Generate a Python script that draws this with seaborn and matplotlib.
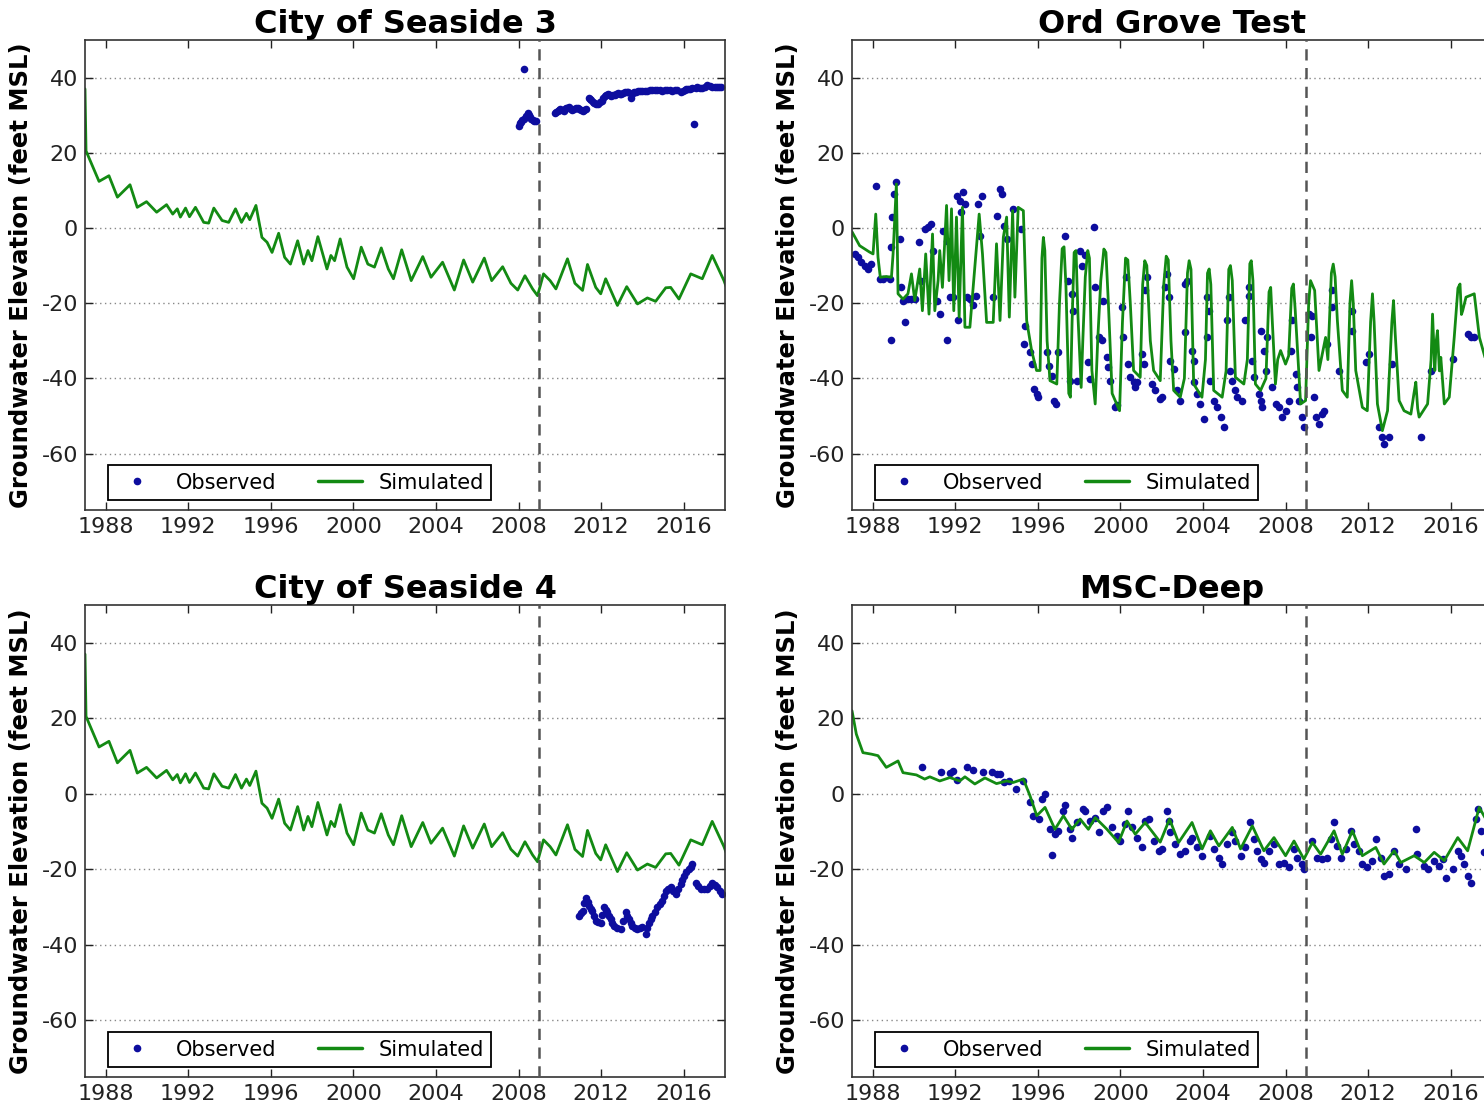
import matplotlib
matplotlib.use("Agg")
import matplotlib.pyplot as plt
import seaborn as sns
import pandas as pd
from matplotlib.lines import Line2D

# ---------------- data (decimal year, feet MSL) ----------------
seaside_sim = [
    (1987.0, 37.0), (1987.05, 20.5), (1987.68, 12.4), (1988.16, 13.9), (1988.57, 8.2),
    (1989.18, 11.5), (1989.53, 5.5), (1989.98, 7.0), (1990.47, 4.2), (1990.95, 6.2),
    (1991.25, 3.7), (1991.47, 5.1), (1991.62, 2.9), (1991.87, 5.3), (1992.06, 3.0),
    (1992.35, 5.5), (1992.75, 1.5), (1992.99, 1.3), (1993.24, 5.3), (1993.64, 2.0),
    (1993.96, 1.5), (1994.29, 5.1), (1994.58, 1.5), (1994.82, 3.9), (1994.98, 2.2),
    (1995.28, 6.0), (1995.57, -2.5), (1995.82, -3.8), (1996.06, -6.5), (1996.38, -1.4),
    (1996.67, -7.8), (1996.95, -9.6), (1997.30, -3.4), (1997.59, -9.6), (1997.80, -6.0),
    (1997.99, -8.7), (1998.28, -2.3), (1998.72, -10.9), (1998.91, -7.3), (1999.09, -8.7),
    (1999.36, -2.9), (1999.69, -10.4), (2000.01, -13.5), (2000.38, -5.1), (2000.70, -9.6),
    (2001.02, -10.4), (2001.35, -5.3), (2001.69, -10.9), (2001.94, -13.5), (2002.34, -5.8),
    (2002.80, -14.0), (2003.36, -7.6), (2003.76, -13.1), (2004.32, -9.1), (2004.89, -16.5),
    (2005.34, -8.5), (2005.78, -14.4), (2006.34, -8.0), (2006.70, -14.0), (2007.23, -10.3),
    (2007.63, -14.7), (2007.96, -16.5), (2008.31, -12.7), (2008.68, -16.2), (2008.92, -18.0),
    (2009.21, -12.2), (2009.53, -14.0), (2009.81, -16.2), (2010.37, -8.2), (2010.73, -14.7),
    (2011.10, -16.6), (2011.34, -9.7), (2011.74, -15.8), (2011.98, -17.5), (2012.22, -13.5),
    (2012.79, -20.6), (2013.24, -15.6), (2013.76, -20.2), (2014.24, -18.6), (2014.64, -19.5),
    (2015.13, -15.9), (2015.37, -15.8), (2015.77, -18.9), (2016.34, -12.2), (2016.90, -13.5),
    (2017.38, -7.3), (2017.95, -14.0), (2018.05, -15.5),
]

seaside3_obs = [
    (2008.04, 27.2), (2008.08, 27.8), (2008.12, 28.1), (2008.18, 28.6), (2008.24, 29.0),
    (2008.28, 42.3), (2008.36, 29.9), (2008.44, 30.5), (2008.50, 30.0), (2008.57, 29.5),
    (2008.62, 28.9), (2008.68, 28.6), (2008.76, 28.5), (2008.84, 28.4), (2009.76, 30.5),
    (2009.82, 30.9), (2009.89, 31.2), (2009.95, 31.5), (2010.02, 31.7), (2010.10, 31.4),
    (2010.18, 31.2), (2010.24, 31.6), (2010.29, 31.9), (2010.37, 32.0), (2010.45, 32.1),
    (2010.53, 31.7), (2010.61, 31.4), (2010.70, 31.6), (2010.78, 31.8), (2010.86, 31.8),
    (2010.94, 31.7), (2011.02, 31.4), (2011.10, 31.2), (2011.18, 31.4), (2011.26, 31.7),
    (2011.42, 34.6), (2011.47, 34.4), (2011.53, 34.1), (2011.60, 33.6), (2011.66, 33.2),
    (2011.76, 33.1), (2011.86, 33.0), (2011.94, 33.4), (2012.02, 33.9), (2012.10, 34.6),
    (2012.18, 35.2), (2012.26, 35.5), (2012.34, 35.7), (2012.42, 35.4), (2012.50, 35.2),
    (2012.58, 35.3), (2012.66, 35.5), (2012.74, 35.6), (2012.82, 35.8), (2012.90, 35.7),
    (2012.98, 35.7), (2013.06, 35.9), (2013.15, 36.1), (2013.23, 36.1), (2013.31, 36.1),
    (2013.44, 34.6), (2013.52, 35.8), (2013.60, 36.1), (2013.70, 36.3), (2013.79, 36.4),
    (2013.90, 36.4), (2014.00, 36.5), (2014.12, 36.5), (2014.24, 36.4), (2014.36, 36.6),
    (2014.48, 36.7), (2014.60, 36.7), (2014.72, 36.7), (2014.85, 36.6), (2014.97, 36.5),
    (2015.09, 36.6), (2015.21, 36.7), (2015.33, 36.6), (2015.45, 36.5), (2015.57, 36.6),
    (2015.69, 36.7), (2015.88, 36.1), (2015.96, 36.4), (2016.05, 36.7), (2016.13, 36.9),
    (2016.21, 37.0), (2016.32, 37.1), (2016.42, 37.2), (2016.50, 27.7), (2016.58, 37.3),
    (2016.66, 37.4), (2016.78, 37.3), (2016.90, 37.2), (2017.02, 37.5), (2017.14, 37.9),
    (2017.26, 37.7), (2017.38, 37.6), (2017.50, 37.6), (2017.63, 37.6), (2017.72, 37.5),
    (2017.82, 37.4),
]

seaside4_obs = [
    (2010.94, -32.3), (2011.02, -31.6), (2011.10, -31.0), (2011.18, -29.0), (2011.26, -27.5),
    (2011.34, -28.6), (2011.42, -29.7), (2011.50, -30.4), (2011.58, -31.0), (2011.66, -32.4),
    (2011.74, -33.6), (2011.86, -33.9), (2011.98, -34.1), (2012.06, -32.0), (2012.14, -30.1),
    (2012.22, -30.8), (2012.30, -31.4), (2012.38, -32.3), (2012.46, -33.2), (2012.54, -34.1),
    (2012.63, -35.0), (2012.79, -35.5), (2012.95, -35.9), (2013.07, -33.6), (2013.19, -31.4),
    (2013.27, -32.3), (2013.35, -33.2), (2013.43, -34.1), (2013.51, -35.0), (2013.63, -35.5),
    (2013.76, -35.9), (2013.88, -35.6), (2014.00, -35.4), (2014.16, -37.0), (2014.24, -35.5),
    (2014.32, -34.1), (2014.40, -33.2), (2014.48, -32.3), (2014.60, -31.2), (2014.72, -30.1),
    (2014.84, -29.2), (2014.96, -28.3), (2015.04, -27.0), (2015.12, -25.7), (2015.25, -25.2),
    (2015.37, -24.8), (2015.49, -25.7), (2015.61, -26.6), (2015.73, -25.2), (2015.85, -23.9),
    (2015.93, -22.8), (2016.01, -21.7), (2016.13, -20.8), (2016.25, -20.0), (2016.33, -19.3),
    (2016.41, -18.6), (2016.58, -23.5), (2016.70, -24.4), (2016.82, -25.2), (2016.98, -25.2),
    (2017.14, -25.2), (2017.26, -24.3), (2017.38, -23.5), (2017.50, -24.1), (2017.62, -24.8),
    (2017.74, -25.7), (2017.87, -26.6),
]

ord_sim = [
    (1987.0, -1.0), (1987.37, -4.7), (1987.85, -6.4), (1988.02, -6.9), (1988.15, 3.7),
    (1988.26, -7.8), (1988.37, -13.1), (1988.66, -12.9), (1988.91, -13.1), (1988.99, -6.9),
    (1989.15, 11.7), (1989.23, -17.5), (1989.47, -18.9), (1989.71, -17.5), (1989.88, -12.2),
    (1990.04, -19.3), (1990.28, -10.9), (1990.41, -22.0), (1990.57, -6.9), (1990.73, -22.9),
    (1990.90, -1.6), (1991.01, -22.0), (1991.17, -14.0), (1991.25, -6.0), (1991.38, -15.8),
    (1991.58, 6.0), (1991.70, -14.0), (1991.82, 5.1), (1991.93, -22.0), (1992.06, 2.9),
    (1992.19, -23.7), (1992.35, 5.5), (1992.47, -26.4), (1992.71, -26.4), (1992.95, -10.4),
    (1993.16, 3.7), (1993.32, -6.9), (1993.52, -25.1), (1993.84, -25.1), (1994.00, -4.2),
    (1994.17, -24.6), (1994.33, -2.5), (1994.49, 2.9), (1994.62, -23.7), (1994.78, 4.6),
    (1994.89, -18.4), (1995.05, 5.5), (1995.30, 4.6), (1995.46, -24.6), (1995.70, -32.6),
    (1995.94, -37.9), (1996.11, -37.9), (1996.20, -8.0), (1996.27, -2.5), (1996.34, -6.0),
    (1996.45, -30.0), (1996.59, -40.6), (1996.92, -41.5), (1997.05, -20.0), (1997.18, -5.5),
    (1997.27, -5.0), (1997.36, -15.0), (1997.50, -44.0), (1997.58, -45.0), (1997.66, -25.0),
    (1997.76, -6.5), (1997.85, -6.0), (1997.95, -24.0), (1998.10, -42.4), (1998.18, -30.0),
    (1998.30, -13.0), (1998.42, -6.0), (1998.50, -8.0), (1998.62, -37.9), (1998.78, -46.8),
    (1998.90, -30.0), (1999.05, -14.0), (1999.20, -5.6), (1999.30, -6.5), (1999.42, -20.2),
    (1999.60, -44.0), (1999.96, -48.6), (2000.10, -25.0), (2000.25, -8.0), (2000.36, -8.5),
    (2000.48, -20.0), (2000.64, -37.9), (2000.96, -39.7), (2001.08, -15.0), (2001.18, -8.7),
    (2001.28, -10.0), (2001.45, -30.0), (2001.61, -37.9), (2001.93, -40.6), (2002.10, -15.0),
    (2002.22, -7.5), (2002.32, -8.5), (2002.45, -30.0), (2002.58, -43.2), (2002.90, -45.0),
    (2003.10, -40.0), (2003.25, -12.0), (2003.33, -8.7), (2003.42, -11.0), (2003.55, -41.5),
    (2003.95, -45.0), (2004.12, -35.0), (2004.22, -12.0), (2004.30, -10.9), (2004.38, -15.0),
    (2004.52, -43.2), (2004.93, -45.0), (2005.12, -38.0), (2005.25, -11.0), (2005.33, -10.0),
    (2005.42, -14.0), (2005.57, -39.7), (2005.98, -41.5), (2006.15, -35.0), (2006.27, -9.5),
    (2006.34, -8.7), (2006.42, -14.0), (2006.54, -41.5), (2006.79, -43.2), (2007.05, -40.0),
    (2007.20, -17.0), (2007.28, -15.8), (2007.36, -25.0), (2007.51, -41.5), (2007.62, -35.0),
    (2007.76, -32.6), (2008.00, -36.2), (2008.15, -34.0), (2008.30, -16.0), (2008.38, -14.9),
    (2008.47, -22.0), (2008.73, -46.8), (2008.97, -45.9), (2009.12, -20.0), (2009.21, -14.0),
    (2009.41, -16.6), (2009.62, -37.9), (2009.94, -29.1), (2010.05, -35.0), (2010.22, -12.0),
    (2010.31, -9.6), (2010.40, -13.0), (2010.51, -24.6), (2010.75, -43.2), (2010.99, -45.0),
    (2011.12, -20.0), (2011.20, -14.0), (2011.28, -20.0), (2011.40, -37.9), (2011.72, -47.7),
    (2011.96, -48.6), (2012.12, -25.0), (2012.21, -17.5), (2012.29, -25.0), (2012.45, -46.8),
    (2012.69, -53.9), (2012.94, -48.6), (2013.15, -25.0), (2013.23, -19.3), (2013.31, -28.0),
    (2013.50, -45.9), (2013.74, -48.6), (2014.07, -49.5), (2014.22, -44.0), (2014.31, -41.0),
    (2014.40, -48.0), (2014.47, -50.3), (2014.88, -46.8), (2015.05, -35.0), (2015.12, -22.9),
    (2015.23, -37.9), (2015.30, -30.0), (2015.36, -27.3), (2015.45, -38.0), (2015.52, -34.4),
    (2015.69, -46.8), (2015.93, -45.0), (2016.17, -29.1), (2016.35, -16.0), (2016.45, -14.9),
    (2016.52, -23.0), (2016.58, -22.0), (2016.74, -18.4), (2017.14, -17.5), (2017.39, -29.1),
    (2017.66, -34.4), (2018.05, -36.0),
]

ord_obs = [
    (1987.13, -6.9), (1987.29, -7.8), (1987.45, -9.1), (1987.61, -10.0), (1987.77, -10.9),
    (1987.94, -9.6), (1988.15, 11.3), (1988.34, -13.5), (1988.50, -13.5), (1988.83, -13.5),
    (1988.91, -29.9), (1988.91, -5.1), (1988.95, 2.9), (1989.02, 9.1), (1989.15, 12.2),
    (1989.31, -2.9), (1989.39, -15.8), (1989.47, -19.3), (1989.55, -25.1), (1989.72, -18.9),
    (1989.88, -18.9), (1990.04, -18.9), (1990.25, -3.8), (1990.36, -14.0), (1990.52, -0.2),
    (1990.69, 0.2), (1990.85, 1.1), (1990.93, -6.0), (1991.12, -19.3), (1991.25, -22.9),
    (1991.41, -0.7), (1991.58, -3.4), (1991.61, -29.9), (1991.74, -18.4), (1991.90, -18.4),
    (1992.09, 8.6), (1992.22, 7.3), (1992.30, 4.2), (1992.39, 9.5), (1992.47, 6.4),
    (1992.14, -24.6), (1992.55, -18.4), (1992.71, -18.9), (1992.84, -20.6), (1993.00, -18.0),
    (1993.11, 6.4), (1993.19, -2.0), (1993.28, 8.6), (1993.84, -18.4), (1994.00, 3.3),
    (1994.17, 10.4), (1994.25, 9.1), (1994.36, 0.6), (1994.49, -2.9), (1994.78, 5.1),
    (1995.17, -0.2), (1995.38, -26.0), (1995.33, -30.8), (1995.62, -33.1), (1995.70, -36.2),
    (1995.82, -42.8), (1995.94, -44.1), (1996.03, -45.0), (1996.43, -33.1), (1996.56, -36.6),
    (1996.67, -39.3), (1996.79, -45.9), (1996.88, -46.8), (1997.00, -33.1), (1997.32, -2.0),
    (1997.48, -14.0), (1997.56, -40.6), (1997.64, -17.5), (1997.72, -22.0), (1997.89, -40.6),
    (1998.05, -6.0), (1998.16, -10.0), (1998.29, -7.3), (1998.45, -35.7), (1998.53, -40.1),
    (1998.70, 0.2), (1998.78, -15.8), (1998.94, -29.1), (1999.10, -29.9), (1999.18, -19.3),
    (1999.34, -34.4), (1999.42, -37.0), (1999.50, -40.6), (1999.75, -47.7), (1999.83, -47.2),
    (2000.07, -21.1), (2000.15, -29.1), (2000.28, -13.1), (2000.39, -36.2), (2000.48, -39.7),
    (2000.64, -41.0), (2000.72, -42.4), (2000.80, -41.0), (2001.04, -33.5), (2001.12, -36.2),
    (2001.20, -16.6), (2001.28, -13.1), (2001.53, -41.5), (2001.69, -43.2), (2001.93, -45.5),
    (2002.01, -45.0), (2002.17, -15.8), (2002.26, -12.2), (2002.34, -18.4), (2002.42, -35.3),
    (2002.58, -37.5), (2002.74, -43.2), (2002.90, -45.9), (2003.15, -14.9), (2003.23, -14.0),
    (2003.15, -27.7), (2003.47, -32.6), (2003.55, -35.3), (2003.55, -41.0), (2003.71, -44.1),
    (2003.87, -46.8), (2004.04, -50.8), (2004.20, -18.4), (2004.28, -22.0), (2004.20, -29.1),
    (2004.36, -40.6), (2004.52, -45.9), (2004.68, -47.7), (2004.85, -50.3), (2005.01, -53.0),
    (2005.17, -24.6), (2005.25, -18.4), (2005.33, -37.9), (2005.41, -40.6), (2005.57, -43.2),
    (2005.65, -45.0), (2005.90, -45.9), (2006.06, -24.6), (2006.22, -18.0), (2006.22, -15.8),
    (2006.38, -35.3), (2006.46, -39.7), (2006.71, -44.1), (2006.79, -45.9), (2006.87, -47.7),
    (2006.79, -27.3), (2006.95, -32.6), (2007.03, -37.9), (2007.11, -29.1), (2007.35, -42.4),
    (2007.52, -46.8), (2007.68, -47.7), (2007.84, -50.3), (2008.00, -48.6), (2008.16, -45.9),
    (2008.24, -32.6), (2008.32, -24.6), (2008.49, -38.8), (2008.57, -42.4), (2008.65, -45.9),
    (2008.81, -50.3), (2008.89, -53.0), (2009.13, -22.9), (2009.21, -29.1), (2009.29, -23.3),
    (2009.38, -45.0), (2009.46, -50.3), (2009.62, -52.1), (2009.78, -49.5), (2009.86, -48.6),
    (2010.02, -30.8), (2010.27, -16.6), (2010.27, -21.1), (2010.59, -37.9), (2011.24, -22.0),
    (2011.24, -27.3), (2011.88, -35.7), (2012.05, -33.5), (2012.53, -53.0), (2012.69, -55.7),
    (2012.77, -57.4), (2013.02, -55.7), (2013.18, -36.2), (2014.55, -55.7), (2015.04, -37.9),
    (2016.09, -34.8), (2016.82, -28.2), (2016.98, -29.1), (2017.14, -29.1),
]

msc_sim = [
    (1987.0, 22.0), (1987.21, 15.8), (1987.53, 10.9), (1987.94, 10.5), (1988.26, 10.1),
    (1988.66, 7.0), (1989.23, 8.7), (1989.47, 5.6), (1990.12, 5.0), (1990.52, 3.9),
    (1990.77, 4.5), (1991.25, 3.4), (1991.74, 4.3), (1992.22, 3.4), (1992.47, 4.5),
    (1992.95, 2.6), (1993.44, 4.2), (1994.00, 2.7), (1994.49, 3.4), (1994.81, 3.0),
    (1995.30, 3.9), (1995.62, -0.5), (1995.95, -5.8), (1996.35, -3.6), (1996.83, -9.4),
    (1997.24, -5.8), (1997.65, -9.4), (1998.05, -6.7), (1998.45, -9.4), (1998.78, -6.3),
    (1999.35, -9.4), (1999.91, -12.9), (2000.32, -7.2), (2000.72, -10.7), (2001.20, -7.6),
    (2001.93, -12.8), (2002.38, -6.7), (2002.82, -12.9), (2003.47, -7.6), (2003.96, -14.6),
    (2004.36, -9.8), (2004.77, -13.8), (2005.42, -8.9), (2005.82, -14.6), (2006.39, -8.5),
    (2006.95, -15.1), (2007.44, -11.6), (2008.00, -16.4), (2008.41, -12.5), (2008.89, -17.3),
    (2009.30, -12.9), (2009.70, -16.0), (2010.35, -9.8), (2010.75, -16.0), (2011.24, -9.8),
    (2011.72, -16.4), (2012.37, -14.2), (2012.77, -18.6), (2013.26, -15.1), (2013.58, -18.2),
    (2014.23, -16.4), (2014.72, -18.2), (2015.20, -15.5), (2015.69, -17.7), (2016.34, -11.6),
    (2016.82, -15.1), (2017.38, -3.6), (2017.66, -6.3), (2018.05, -8.0),
]

msc_obs = [
    (1990.41, 7.0), (1991.33, 5.8), (1991.74, 5.4), (1991.87, 6.1), (1992.09, 3.6),
    (1992.55, 7.0), (1992.84, 6.3), (1993.36, 5.9), (1993.76, 5.7), (1994.00, 5.2),
    (1994.17, 5.2), (1994.36, 3.0), (1994.62, 3.4), (1994.94, 1.2), (1995.30, 3.4),
    (1995.62, -2.3), (1995.78, -5.8), (1996.07, -6.7), (1996.19, -1.4), (1996.35, -0.1),
    (1996.59, -9.4), (1996.67, -16.2), (1996.83, -10.7), (1997.00, -9.8), (1997.24, -4.5),
    (1997.32, -2.9), (1997.56, -9.4), (1997.64, -11.6), (1997.89, -7.6), (1998.21, -4.1),
    (1998.29, -4.5), (1998.53, -7.2), (1998.78, -6.3), (1998.94, -10.2), (1999.18, -4.5),
    (1999.34, -3.6), (1999.59, -8.9), (1999.83, -11.1), (1999.99, -12.5), (2000.23, -8.0),
    (2000.39, -4.5), (2000.56, -8.9), (2000.80, -11.6), (2001.04, -14.2), (2001.20, -7.2),
    (2001.37, -6.7), (2001.61, -12.5), (2001.85, -15.1), (2002.01, -14.7), (2002.26, -4.5),
    (2002.34, -7.2), (2002.42, -10.2), (2002.66, -13.3), (2002.90, -16.0), (2003.15, -15.1),
    (2003.39, -12.5), (2003.47, -11.6), (2003.71, -14.2), (2003.95, -16.4), (2004.36, -11.1),
    (2004.52, -14.7), (2004.76, -16.9), (2004.93, -18.6), (2005.17, -13.3), (2005.41, -10.2),
    (2005.57, -12.5), (2005.82, -16.4), (2006.06, -14.2), (2006.30, -7.6), (2006.46, -12.0),
    (2006.63, -15.1), (2006.79, -17.3), (2006.95, -18.2), (2007.19, -15.1), (2007.43, -13.3),
    (2007.68, -18.6), (2007.92, -18.2), (2008.16, -19.5), (2008.40, -14.7), (2008.57, -16.9),
    (2008.81, -18.6), (2008.89, -19.9), (2009.30, -12.5), (2009.54, -16.9), (2009.78, -17.3),
    (2010.02, -16.9), (2010.19, -12.0), (2010.35, -7.6), (2010.51, -13.8), (2010.67, -16.9),
    (2010.91, -14.7), (2011.16, -9.8), (2011.32, -13.3), (2011.56, -15.1), (2011.72, -18.6),
    (2011.96, -19.5), (2012.21, -17.7), (2012.37, -12.0), (2012.61, -16.9), (2012.77, -21.7),
    (2013.02, -21.3), (2013.26, -15.1), (2013.50, -18.6), (2013.83, -19.9), (2014.31, -9.4),
    (2014.39, -16.0), (2014.71, -19.1), (2014.88, -19.9), (2015.20, -17.7), (2015.44, -19.1),
    (2015.61, -17.3), (2015.77, -22.2), (2016.09, -19.9), (2016.33, -15.1), (2016.50, -16.4),
    (2016.66, -18.6), (2016.82, -21.7), (2016.98, -23.5), (2017.22, -6.7), (2017.31, -4.1),
    (2017.47, -9.8), (2017.60, -15.5),
]

titles = ["City of Seaside 3", "Ord Grove Test", "City of Seaside 4", "MSC-Deep"]
x_ticks = [1988, 1992, 1996, 2000, 2004, 2008, 2012, 2016]
y_ticks = [-60, -40, -20, 0, 20, 40]
calibration_end = 2009.0

# ---------------- style ----------------
sns.set_theme(style="white")
plt.rcParams.update({
    "font.family": ["DejaVu Sans"],
    "xtick.direction": "in", "ytick.direction": "in",
    "xtick.top": True, "ytick.right": True,
    "xtick.bottom": True, "ytick.left": True,
    "xtick.major.size": 6, "ytick.major.size": 6,
    "xtick.major.width": 1.0, "ytick.major.width": 1.0,
    "xtick.major.pad": 5, "ytick.major.pad": 5,
    "xtick.color": "#222222", "ytick.color": "#222222",
    "xtick.labelsize": 16, "ytick.labelsize": 16,
    "axes.edgecolor": "#333333", "axes.linewidth": 1.2,
    "text.color": "black", "axes.labelcolor": "black",
})

OBS_COLOR = "#0d0d9e"
SIM_COLOR = "#138a13"

W, H = 1484, 1105
fig = plt.figure(figsize=(W / 100, H / 100), dpi=100)


def frac_box(left, top, right, bottom):
    return [left / W, 1 - bottom / H, (right - left) / W, (bottom - top) / H]


boxes = [
    frac_box(85, 40, 725, 510),
    frac_box(852, 40, 1492, 510),
    frac_box(85, 605, 725, 1077),
    frac_box(852, 605, 1492, 1077),
]
sims = [seaside_sim, ord_sim, seaside_sim, msc_sim]
obss = [seaside3_obs, ord_obs, seaside4_obs, msc_obs]

for box, title, sim, obs in zip(boxes, titles, sims, obss):
    ax = fig.add_axes(box)
    sim_df = pd.DataFrame(sim, columns=["year", "elev"])
    obs_df = pd.DataFrame(obs, columns=["year", "elev"])
    sns.scatterplot(data=obs_df, x="year", y="elev", ax=ax, color=OBS_COLOR,
                    s=30, linewidth=0, legend=False, zorder=1)
    sns.lineplot(data=sim_df, x="year", y="elev", ax=ax, color=SIM_COLOR,
                 lw=2.0, sort=False, estimator=None, legend=False, zorder=2)
    ax.axvline(calibration_end, color="#555555", lw=1.8, ls=(0, (4.5, 3)), zorder=3)

    ax.set_xlim(1987.0, 2018.0)
    ax.set_ylim(-75, 50)
    ax.set_xticks(x_ticks)
    ax.set_xticklabels([str(t) for t in x_ticks])
    ax.set_yticks(y_ticks)
    ax.set_yticklabels([str(t) for t in y_ticks])
    ax.yaxis.grid(True, color="#888888", ls=(0, (1, 2.5)), lw=1.0)
    ax.xaxis.grid(False)
    ax.set_axisbelow(True)

    ax.set_title(title, fontsize=23, fontweight="bold", pad=5)
    ax.set_xlabel("")
    ax.set_ylabel("Groundwater Elevation (feet MSL)", fontsize=17.5,
                  fontweight="bold", labelpad=6)

    handles = [
        Line2D([], [], ls="none", marker="o", ms=4.5, color=OBS_COLOR),
        Line2D([], [], color=SIM_COLOR, lw=2.5),
    ]
    ax.legend(handles, ["Observed", "Simulated"], ncol=2, loc="lower left",
              bbox_to_anchor=(23 / 640, 10 / 470), borderaxespad=0,
              fontsize=15, frameon=True, fancybox=False, edgecolor="black",
              framealpha=1, handlelength=2.1, columnspacing=2.0,
              handletextpad=0.8, borderpad=0.35)
    ax.get_legend().get_frame().set_linewidth(1.3)

fig.savefig("out.png", dpi=100)
